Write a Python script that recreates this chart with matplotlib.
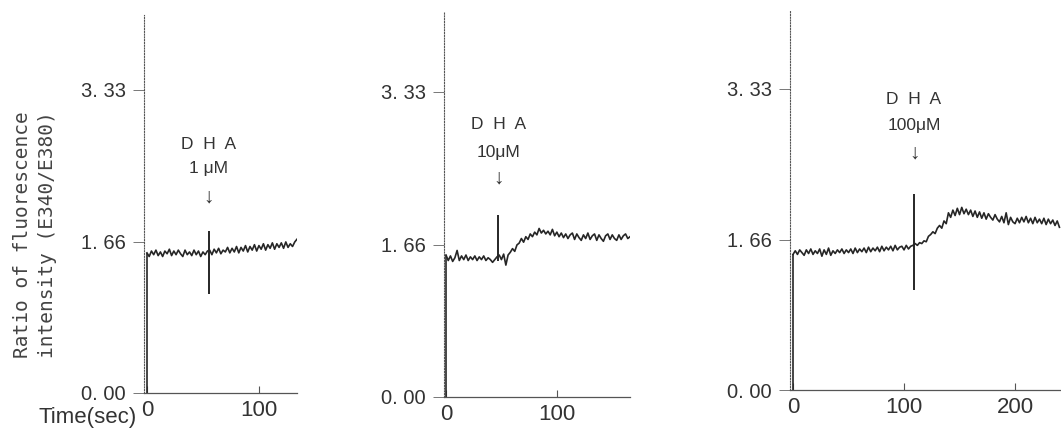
import matplotlib
matplotlib.use('Agg')
import matplotlib.pyplot as plt
import numpy as np

time1 = np.arange(0, 136, 2)
ratio1 = [1.54, 1.50, 1.56, 1.52, 1.57, 1.51, 1.55, 1.50, 1.56, 1.53,
          1.58, 1.51, 1.56, 1.52, 1.57, 1.53, 1.50, 1.57, 1.52, 1.55,
          1.51, 1.57, 1.52, 1.56, 1.50, 1.55, 1.52, 1.56,
          1.57, 1.52, 1.58, 1.54, 1.59, 1.53, 1.57, 1.55, 1.60, 1.54,
          1.59, 1.55, 1.61, 1.54, 1.60, 1.56, 1.62, 1.55, 1.61, 1.57,
          1.63, 1.56, 1.62, 1.58, 1.64, 1.57, 1.63, 1.59, 1.65, 1.58,
          1.64, 1.60, 1.65, 1.59, 1.66, 1.60, 1.64, 1.61, 1.66, 1.69]

time2 = np.arange(0, 168, 2)
ratio2 = [1.55, 1.49, 1.54, 1.48, 1.52, 1.60, 1.49, 1.54, 1.50, 1.55,
          1.49, 1.53, 1.50, 1.54, 1.49, 1.53, 1.50, 1.54, 1.49, 1.52,
          1.50, 1.47, 1.50, 1.53,
          1.55, 1.50, 1.56, 1.44, 1.55, 1.58, 1.62, 1.59, 1.66, 1.68,
          1.73, 1.69, 1.75, 1.72, 1.78, 1.75, 1.80, 1.77, 1.84, 1.79,
          1.82, 1.78, 1.81, 1.77, 1.83, 1.76, 1.80, 1.75, 1.79, 1.74,
          1.78, 1.73, 1.77, 1.79, 1.72, 1.78, 1.74, 1.71, 1.77, 1.73,
          1.79, 1.72, 1.76, 1.78, 1.71, 1.77, 1.73, 1.70, 1.76, 1.78,
          1.72, 1.77, 1.73, 1.71, 1.77, 1.72, 1.76, 1.78, 1.73, 1.75]

time3 = np.arange(0, 242, 2)
ratio3 = [1.50, 1.54, 1.50, 1.55, 1.52, 1.49, 1.55, 1.51, 1.56, 1.50,
          1.54, 1.51, 1.56, 1.48, 1.55, 1.50, 1.57, 1.49, 1.54, 1.51,
          1.55, 1.52, 1.56, 1.51, 1.55, 1.52, 1.56, 1.51, 1.57, 1.52,
          1.56, 1.53, 1.57, 1.52, 1.58, 1.53, 1.57, 1.54, 1.58, 1.53,
          1.59, 1.54, 1.58, 1.55, 1.59, 1.54, 1.60, 1.55, 1.58, 1.59,
          1.55, 1.60, 1.56, 1.59, 1.60,
          1.62, 1.60, 1.63, 1.62, 1.65, 1.64, 1.70, 1.72, 1.75, 1.73,
          1.79, 1.82, 1.79, 1.87, 1.84, 1.96, 1.91, 1.99, 1.93, 2.01,
          1.94, 2.02, 1.95, 2.00, 1.94, 1.99, 1.92, 1.98, 1.91, 1.97,
          1.90, 1.96, 1.89, 1.95, 1.91, 1.88, 1.94, 1.89, 1.86, 1.92,
          1.85, 1.96, 1.83, 1.91, 1.86, 1.84, 1.90, 1.85, 1.91, 1.86,
          1.92, 1.85, 1.90, 1.84, 1.91, 1.85, 1.89, 1.84, 1.90, 1.83,
          1.89, 1.84, 1.88, 1.82, 1.87, 1.80]

# DHA addition artefact: time, low, high
spike_time = [55, 47, 109]
spike_low = [1.09, 1.49, 1.11]
spike_high = [1.78, 1.99, 2.17]

doses = ['1 μM', '10μM', '100μM']
ytick_values = [0.0, 1.66, 3.33]
ytick_labels = ['0. 00', '1. 66', '3. 33']
xtick_values = [[0, 100], [0, 100], [0, 100, 200]]

# ---- layout (figure pixels) ----
W, H = 1061, 428
# left px, right px, y=0 px, px per unit, xlim, ytop, label heights (DHA, dose, arrow)
panels = [
    (143.6, 297, 393, 91.0, (-3, 134), 4.15, (2.73, 2.47, 2.15)),
    (443.8, 630, 397, 91.6, (-2, 166), 4.20, (2.97, 2.67, 2.39)),
    (789.7, 1061, 390, 90.4, (-3, 241.4), 4.20, (3.21, 2.93, 2.62)),
]

NARROW = ['Liberation Sans Narrow', 'Liberation Sans', 'DejaVu Sans']
SANS = ['Liberation Sans', 'DejaVu Sans']
ink = '#262626'
txt = '#333333'

series = [(time1, ratio1), (time2, ratio2), (time3, ratio3)]

fig = plt.figure(figsize=(W / 100, H / 100), dpi=100)

for i, (l, r, y0, pxu, xlim, ytop, ann) in enumerate(panels):
    ax = fig.add_axes([l / W, (H - y0) / H, (r - l) / W, ytop * pxu / H])
    t, v = series[i]
    ax.plot(t, v, color=ink, lw=1.2)
    ax.vlines([t[0]], 0, v[0], color=ink, lw=1.2)
    ax.vlines([spike_time[i]], spike_low[i], spike_high[i], color=ink, lw=1.4)
    ax.set_xlim(*xlim)
    ax.set_ylim(0, ytop)

    for s in ('top', 'right'):
        ax.spines[s].set_visible(False)
    ax.spines['left'].set_linestyle((0, (1, 1.5)))
    ax.spines['left'].set_linewidth(0.8)
    ax.spines['left'].set_color('#555555')
    ax.spines['bottom'].set_linewidth(0.9)
    ax.spines['bottom'].set_color('#555555')

    ax.set_yticks(ytick_values)
    ax.set_yticklabels(ytick_labels, fontfamily=NARROW, fontsize=14.5, color=txt)
    ax.tick_params(axis='y', direction='out', length=8, width=0.7,
                   color='#777777', pad=5)
    ax.set_xticks(xtick_values[i])
    ax.set_xticklabels([str(x) for x in xtick_values[i]], fontfamily=NARROW,
                       fontsize=16, color=txt)
    ax.tick_params(axis='x', direction='in', length=5, width=0.8,
                   color='#555555', pad=5)

    xs = spike_time[i]
    ax.text(xs, ann[0], 'D  H  A', ha='center', va='center', fontsize=12.5,
            family=SANS, color=txt)
    ax.text(xs, ann[1], doses[i], ha='center', va='center', fontsize=12.5,
            family=SANS, color=txt)
    ax.text(xs, ann[2], '↓', ha='center', va='center', fontsize=15,
            family=SANS, color=txt)

fig.text(35 / W, 1 - 235 / H, 'Ratio of fluorescence\nintensity (E340/E380)',
         rotation=90, ha='center', va='center', multialignment='center',
         family='DejaVu Sans Mono', fontsize=14, linespacing=1.45, color='#444444')
fig.text(137 / W, 1 - 423 / H, 'Time(sec)', ha='right', va='baseline',
         family=NARROW, fontsize=16, color=txt)

fig.savefig('out.png', dpi=100, facecolor='white')
